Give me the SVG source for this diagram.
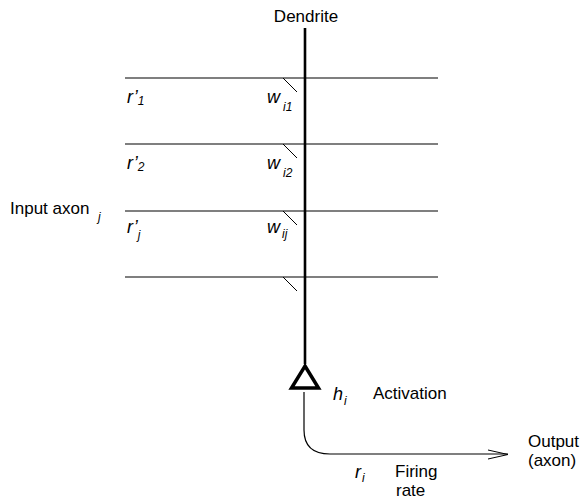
<svg xmlns="http://www.w3.org/2000/svg" width="586" height="499" viewBox="0 0 586 499">
<style>
.t{font-family:"Liberation Sans",Arial,sans-serif;font-size:17px;fill:#000}
.i{font-family:"Liberation Sans",Arial,sans-serif;font-size:18px;font-style:italic;fill:#000}
.s{font-family:"Liberation Sans",Arial,sans-serif;font-size:12px;font-style:italic;fill:#000}
.ax{stroke:#000;stroke-width:1.2;fill:none}
.syn{stroke:#000;stroke-width:1;fill:none}
</style>
<rect width="586" height="499" fill="#fff"/>
<g id="connectors">
<line class="ax" x1="125" y1="78" x2="438" y2="78"/>
<line class="ax" x1="125" y1="144" x2="438" y2="144"/>
<line class="ax" x1="125" y1="211" x2="438" y2="211"/>
<line class="ax" x1="125" y1="277" x2="438" y2="277"/>
<line class="syn" x1="283" y1="78" x2="297" y2="92"/>
<line class="syn" x1="283" y1="144" x2="297" y2="158"/>
<line class="syn" x1="283" y1="211" x2="297" y2="225"/>
<line class="syn" x1="283" y1="277" x2="297" y2="291"/>
<line x1="305" y1="28" x2="305" y2="364" stroke="#000" stroke-width="2.6"/>
<path d="M304,392 V430 Q304,454 330,454 H508" stroke="#000" stroke-width="1.2" fill="none"/>
<path d="M488,450 L508,454.5 L488,459" stroke="#000" stroke-width="1" fill="none"/>
</g>
<g id="soma">
<path d="M305,366 L318.5,388 L291.5,388 Z" fill="none" stroke="#000" stroke-width="3.5" stroke-linejoin="miter"/>
</g>
<g id="labels">
<text class="t" x="306" y="22" text-anchor="middle" font-size="16">Dendrite</text>
<text class="i" x="127" y="103">r’<tspan class="s" font-style="normal" dy="2">1</tspan></text>
<text class="i" x="267" y="103">w<tspan class="s" dx="3" dy="8">i1</tspan></text>
<text class="i" x="127" y="169">r’<tspan class="s" font-style="normal" dy="2">2</tspan></text>
<text class="i" x="267" y="169">w<tspan class="s" dx="3" dy="8">i2</tspan></text>
<text class="i" x="127" y="233">r’<tspan class="s" dy="6">j</tspan></text>
<text class="i" x="267" y="233">w<tspan class="s" dx="2" dy="5">ij</tspan></text>
<text class="t" x="10" y="214" font-size="16">Input  axon</text>
<text class="s" x="98" y="221">j</text>
<text class="i" x="333" y="400">h<tspan class="s" dx="1" dy="5">i</tspan></text>
<text class="t" x="373" y="399">Activation</text>
<text class="i" x="355" y="478">r<tspan class="s" dx="1" dy="4">i</tspan></text>
<text class="t" x="395" y="476.5" font-size="16.5">Firing</text>
<text class="t" x="396" y="495.5" font-size="16.5">rate</text>
<text class="t" x="528" y="447" font-size="16.5">Output</text>
<text class="t" x="528" y="466" font-size="16.5">(axon)</text>
</g>
</svg>
